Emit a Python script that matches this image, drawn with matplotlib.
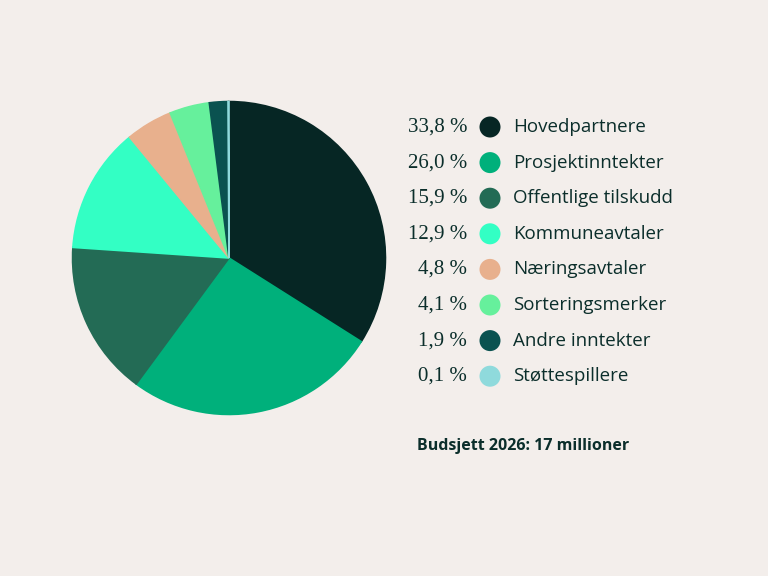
import matplotlib
matplotlib.use("Agg")
import matplotlib.pyplot as plt
from matplotlib.patches import Circle

categories = ["Hovedpartnere", "Prosjektinntekter", "Offentlige tilskudd", "Kommuneavtaler",
              "Næringsavtaler", "Sorteringsmerker", "Andre inntekter", "Støttespillere"]
values = [33.8, 26.0, 15.9, 12.9, 4.8, 4.1, 1.9, 0.1]
pct_labels = ["33,8 %", "26,0 %", "15,9 %", "12,9 %", "4,8 %", "4,1 %", "1,9 %", "0,1 %"]
colors = ["#062624", "#00b07b", "#236b55", "#33ffc4", "#e8b08d", "#66f09c", "#0a5250", "#8fdadc"]
title = "Budsjett 2026: 17 millioner"

bg = "#f3eeeb"
txt = "#0b2e2b"

W, H = 768, 576
fig = plt.figure(figsize=(7.68, 5.76), dpi=100, facecolor=bg)

cx, cy, r = 229, 258, 158
ax = fig.add_axes([(cx - r) / W, 1 - (cy + r) / H, 2 * r / W, 2 * r / H])
ax.set_facecolor(bg)
wedges, _ = ax.pie(values, colors=colors, startangle=90, counterclock=False,
                   wedgeprops=dict(linewidth=1.2))
for w, c in zip(wedges, colors):
    w.set_edgecolor(c)
ax.set_xlim(-1.01, 1.01)
ax.set_ylim(-1.01, 1.01)
ax.set_aspect("equal")
ax.axis("off")

lax = fig.add_axes([0, 0, 1, 1], facecolor="none")
lax.set_xlim(0, W)
lax.set_ylim(H, 0)
lax.axis("off")

y0, dy = 127, 35.6
for i, (lab, pct, col) in enumerate(zip(categories, pct_labels, colors)):
    y = y0 + i * dy
    lax.text(467, y, pct, ha="right", va="center", fontsize=15,
             family="Liberation Serif", color=txt)
    lax.add_patch(Circle((490, y), 10.5, color=col, lw=0))
    lax.text(513, y, lab, ha="left", va="center", fontsize=13.5,
             family="Open Sans", color=txt)

lax.text(417, 446, title, ha="left", va="center", fontsize=11.5,
         family="Open Sans", weight="bold", color=txt)

fig.savefig("out.png", dpi=100, facecolor=bg)
